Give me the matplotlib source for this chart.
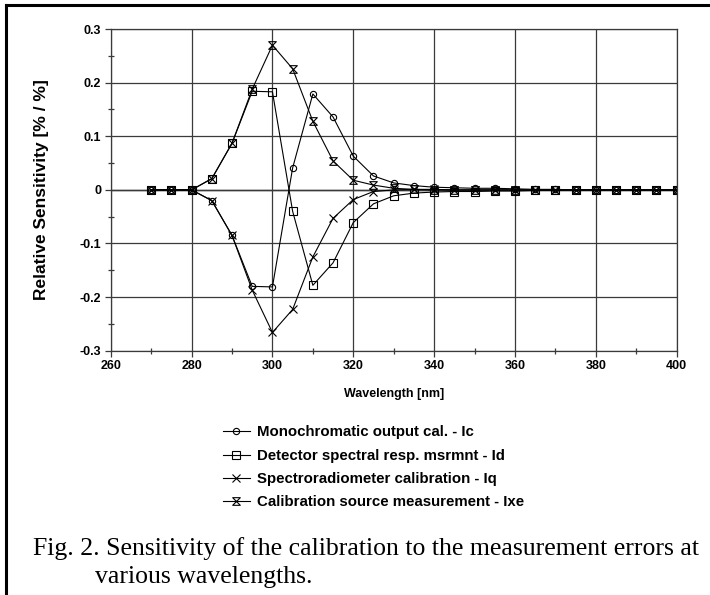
import matplotlib
matplotlib.use("Agg")
import matplotlib.pyplot as plt
from matplotlib.lines import Line2D
from matplotlib.path import Path
from matplotlib.ticker import MultipleLocator

## data
wavelength = [270, 275, 280, 285, 290, 295, 300, 305, 310, 315, 320, 325, 330, 335,
              340, 345, 350, 355, 360, 365, 370, 375, 380, 385, 390, 395, 400]
ic = [0, 0, 0, -0.020, -0.085, -0.180, -0.181, 0.041, 0.179, 0.136, 0.063, 0.026, 0.013, 0.008,
      0.005, 0.004, 0.003, 0.003, 0.002, 0.001, 0.001, 0, 0, 0, 0, 0, 0]
id_ = [0, 0, 0, 0.021, 0.087, 0.184, 0.183, -0.040, -0.178, -0.136, -0.061, -0.026, -0.011, -0.006,
       -0.004, -0.003, -0.003, -0.002, -0.002, -0.001, -0.001, 0, 0, 0, 0, 0, 0]
iq = [0, 0, 0, -0.020, -0.085, -0.187, -0.266, -0.223, -0.125, -0.053, -0.018, -0.003, 0.000, 0.001,
      0.001, 0, 0, 0, 0, 0, 0, 0, 0, 0, 0, 0, 0]
ixe = [0, 0, 0, 0.021, 0.087, 0.188, 0.270, 0.226, 0.128, 0.054, 0.018, 0.009, 0.003, 0.001,
       0, 0, 0, 0, 0, 0, 0, 0, 0, 0, 0, 0, 0]

labels = ["Monochromatic output cal. - Ic",
          "Detector spectral resp. msrmnt - Id",
          "Spectroradiometer calibration - Iq",
          "Calibration source measurement - Ixe"]

# hourglass marker (X with bars top and bottom)
hourglass = Path([(-1, 1), (1, 1), (-1, -1), (1, -1), (-1, 1)],
                 [Path.MOVETO, Path.LINETO, Path.LINETO, Path.LINETO, Path.CLOSEPOLY])

plt.rcParams["font.family"] = "Liberation Sans"

fig = plt.figure(figsize=(7.1, 5.95), dpi=100)
ax = fig.add_axes([0.156, 0.4106, 0.797, 0.5405])

grid_c = "#3a3a3a"
ax.plot(wavelength, ic, color="black", lw=0.8, marker="o", ms=4.5, mfc="none", mew=0.8, label=labels[0])
ax.plot(wavelength, id_, color="black", lw=0.8, marker="s", ms=5.5, mfc="none", mew=0.8, label=labels[1])
ax.plot(wavelength, iq, color="black", lw=0.8, marker="x", ms=5.5, mew=0.8, label=labels[2])
ax.plot(wavelength, ixe, color="black", lw=0.8, marker=hourglass, ms=5.5, mfc="none", mew=0.8, label=labels[3])

ax.set_xlim(260, 400)
ax.set_ylim(-0.3, 0.3)
ax.xaxis.set_major_locator(MultipleLocator(20))
ax.xaxis.set_minor_locator(MultipleLocator(10))
ax.yaxis.set_major_locator(MultipleLocator(0.1))
ax.yaxis.set_minor_locator(MultipleLocator(0.05))
ax.set_yticklabels([("%g" % v) if abs(v) > 1e-9 else "0" for v in ax.get_yticks()])
ax.grid(True, which="major", color=grid_c, lw=0.9)
ax.axhline(0, color="black", lw=1.0, zorder=1.5)
for s in ax.spines.values():
    s.set_color(grid_c)
    s.set_linewidth(0.9)
ax.tick_params(which="major", direction="out", length=4, width=0.9, color=grid_c, labelsize=9, pad=3)
ax.tick_params(which="minor", direction="inout", length=5, width=0.9, color=grid_c)
for t in ax.get_xticklabels() + ax.get_yticklabels():
    t.set_fontweight("bold")

ax.set_xlabel("Wavelength [nm]", fontsize=9, fontweight="bold", labelpad=11)
ax.set_ylabel("Relative Sensitivity [% / %]", fontsize=12.5, fontweight="bold", labelpad=22)

leg = fig.legend(loc="upper left", bbox_to_anchor=(0.305, 0.295), frameon=False,
                 prop={"family": "Liberation Sans", "weight": "bold", "size": 10.8},
                 handlelength=1.8, handletextpad=0.5, labelspacing=0.62, borderaxespad=0)

fig.text(0.047, 0.068, "Fig. 2. Sensitivity of the calibration to the measurement errors at",
         family="Liberation Serif", fontsize=18.5, ha="left", va="baseline")
fig.text(0.134, 0.021, "various wavelengths.",
         family="Liberation Serif", fontsize=18.5, ha="left", va="baseline")

# outer frame: top and left rules
fig.add_artist(Line2D([0.008, 1.0], [0.992, 0.992], color="black", lw=2.2))
fig.add_artist(Line2D([0.0085, 0.0085], [0.0, 0.992], color="black", lw=2.2))

fig.savefig("out.png", dpi=100)
